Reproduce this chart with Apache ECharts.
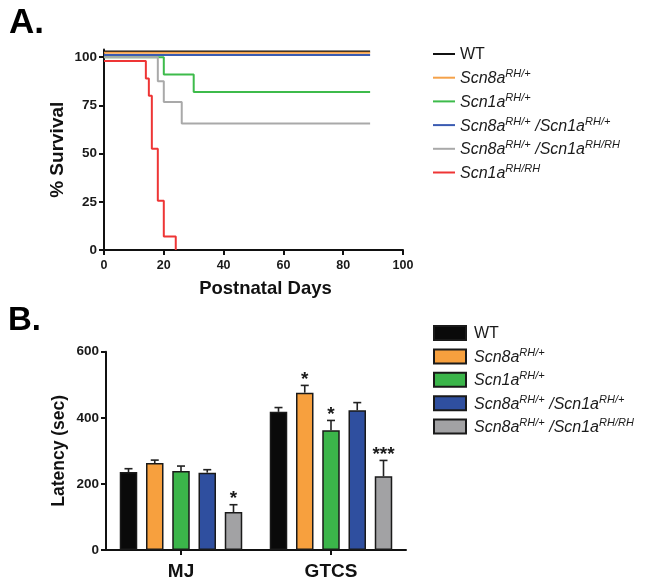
<!DOCTYPE html>
<html>
<head>
<meta charset="utf-8">
<script src="https://cdn.jsdelivr.net/npm/echarts@6/dist/echarts.min.js"></script>
<style>html,body{margin:0;padding:0;background:#fff;}#chart{width:645px;height:588px;}</style>
</head>
<body>
<div id="chart"></div>
<script>
// ---------- Panel A: survival (day, % survival) ----------
const survivalDays = [0, 20, 40, 60, 80, 100];
const survivalTicks = [0, 25, 50, 75, 100];
const wtSurvival = [[0, 102.9], [89, 102.9]];
const scn8aSurvival = [[0, 102.3], [89, 102.3]];
const scn1aSurvival = [[0, 100], [20, 91], [30, 82], [89, 82]];
const dblHetSurvival = [[0, 101.2], [89, 101.2]];
const dblHomSurvival = [[0, 100], [18, 87.5], [20, 76.8], [26, 65.6], [89, 65.6]];
const scn1aHomSurvival = [[0, 98], [14, 89], [15, 80], [16, 52.5], [18, 25.5], [20, 7], [24, 0]];

// ---------- Panel B: seizure latency ----------
const latencyCategories = ['MJ', 'GTCS'];
const latencyTicks = [0, 200, 400, 600];
const wtLatency = [236, 418];
const wtErr = [10, 13];
const wtSig = ['', ''];
const scn8aLatency = [263, 476];
const scn8aErr = [9, 22];
const scn8aSig = ['', '*'];
const scn1aLatency = [239, 362];
const scn1aErr = [15, 30];
const scn1aSig = ['', '*'];
const dblHetLatency = [234, 423];
const dblHetErr = [9, 23];
const dblHetSig = ['', ''];
const dblHomLatency = [115, 223];
const dblHomErr = [22, 48];
const dblHomSig = ['*', '***'];

const FONT = 'Liberation Sans, Arial, sans-serif';

const labelRich = {
  WT: '{n|WT}',
  S8: '{i|Scn8a}{s|RH/+}',
  S1: '{i|Scn1a}{s|RH/+}',
  S8S1: '{i|Scn8a}{s|RH/+}{i| /Scn1a}{s|RH/+}',
  S8S1H: '{i|Scn8a}{s|RH/+}{i| /Scn1a}{s|RH/RH}',
  S1H: '{i|Scn1a}{s|RH/RH}'
};
const rich = {
  n: {fontFamily: FONT, fontSize: 16, color: '#1a1a1a', lineHeight: 18, verticalAlign: 'bottom'},
  i: {fontFamily: FONT, fontSize: 16, fontStyle: 'italic', color: '#1a1a1a', lineHeight: 18, verticalAlign: 'bottom'},
  s: {fontFamily: FONT, fontSize: 11, fontStyle: 'italic', color: '#1a1a1a', lineHeight: 10, verticalAlign: 'top'}
};
function legendFmt(name) { return labelRich[name.split(':')[1]]; }

const lineDefs = [
  ['A:WT', wtSurvival, '#111111'],
  ['A:S8', scn8aSurvival, '#f5a24a'],
  ['A:S1', scn1aSurvival, '#3dbb4b'],
  ['A:S8S1', dblHetSurvival, '#3a5bb2'],
  ['A:S8S1H', dblHomSurvival, '#a9a9a9'],
  ['A:S1H', scn1aHomSurvival, '#ee3535']
];
const barDefs = [
  ['B:WT', wtLatency, wtErr, wtSig, '#0a0a0a'],
  ['B:S8', scn8aLatency, scn8aErr, scn8aSig, '#f7a03e'],
  ['B:S1', scn1aLatency, scn1aErr, scn1aSig, '#3bb54a'],
  ['B:S8S1', dblHetLatency, dblHetErr, dblHetSig, '#2f4f9f'],
  ['B:S8S1H', dblHomLatency, dblHomErr, dblHomSig, '#a2a2a4']
];
const BAR_W = 17.5;
const BAR_GAP = 0.5;

const series = [];
lineDefs.forEach(function (d) {
  series.push({
    name: d[0], type: 'line', xAxisIndex: 0, yAxisIndex: 0, step: 'end',
    showSymbol: false, symbol: 'none', data: d[1], color: d[2],
    lineStyle: {width: 2, color: d[2]}, animation: false, z: 3
  });
});
barDefs.forEach(function (d, k) {
  series.push({
    name: d[0], type: 'bar', xAxisIndex: 1, yAxisIndex: 1, data: d[1],
    barWidth: BAR_W, barGap: (BAR_GAP * 100) + '%', color: d[4],
    itemStyle: {color: d[4], borderColor: '#1a1a1a', borderWidth: 1.5},
    animation: false
  });
});
barDefs.forEach(function (d, k) {
  const errData = d[1].map(function (v, i) { return [i, v, v + d[2][i], d[3][i]]; });
  const off = (k - (barDefs.length - 1) / 2) * BAR_W * (1 + BAR_GAP);
  series.push({
    name: 'err' + k, type: 'custom', xAxisIndex: 1, yAxisIndex: 1, data: errData,
    animation: false, z: 1,
    renderItem: function (params, api) {
      const base = api.coord([api.value(0), api.value(1)]);
      const top = api.coord([api.value(0), api.value(2)]);
      const x = base[0] + off;
      const sig = errData[params.dataIndex][3];
      const children = [
        {type: 'line', shape: {x1: x, y1: base[1], x2: x, y2: top[1]}, style: {stroke: '#222', lineWidth: 1.6}},
        {type: 'line', shape: {x1: x - 4, y1: top[1], x2: x + 4, y2: top[1]}, style: {stroke: '#222', lineWidth: 1.6}}
      ];
      if (sig) {
        children.push({type: 'text', style: {text: sig, x: x, y: top[1] + 4, align: 'center', verticalAlign: 'bottom',
          font: 'bold 19px ' + FONT, fill: '#1a1a1a'}});
      }
      return {type: 'group', children: children};
    }
  });
});

const axisLineStyle = {color: '#111', width: 2};
const xTickLabelStyle = {fontFamily: FONT, fontWeight: 'bold', fontSize: 12.5, color: '#1a1a1a'};
const yTickLabelStyle = {fontFamily: FONT, fontWeight: 'bold', fontSize: 13.5, color: '#1a1a1a'};

const option = {
  backgroundColor: '#fff',
  animation: false,
  title: [
    {text: 'A.', left: 4, top: 1, textStyle: {fontFamily: FONT, fontWeight: 'bold', fontSize: 35, color: '#000'}},
    {text: 'B.', left: 3, top: 299, textStyle: {fontFamily: FONT, fontWeight: 'bold', fontSize: 33, color: '#000'}}
  ],
  legend: [
    {data: lineDefs.map(function (d) { return d[0]; }), orient: 'vertical', left: 433, top: 47, padding: 0,
      itemWidth: 22, itemHeight: 2, icon: 'rect', itemGap: 5.7, formatter: legendFmt,
      textStyle: {rich: rich}, selectedMode: false},
    {data: barDefs.map(function (d) { return d[0]; }), orient: 'vertical', left: 433, top: 325, padding: 0,
      itemWidth: 32, itemHeight: 14, icon: 'rect', itemGap: 5.4, formatter: legendFmt,
      textStyle: {rich: rich, padding: [0, 0, 0, 3]}, selectedMode: false}
  ],
  grid: [
    {left: 104, top: 49.5, width: 299, height: 200.5},
    {left: 106, top: 351.7, width: 300, height: 198.3}
  ],
  xAxis: [
    {gridIndex: 0, type: 'value', min: survivalDays[0], max: survivalDays[survivalDays.length - 1], interval: 20,
      name: 'Postnatal Days', nameLocation: 'middle', nameGap: 29,
      nameTextStyle: {fontFamily: FONT, fontWeight: 'bold', fontSize: 18.5, color: '#111', padding: [0, 0, 0, 24]},
      axisLine: {lineStyle: axisLineStyle}, axisTick: {show: true, length: 5, lineStyle: {color: '#111', width: 2}},
      axisLabel: Object.assign({margin: 9, customValues: survivalDays}, xTickLabelStyle), splitLine: {show: false}},
    {gridIndex: 1, type: 'category', data: latencyCategories,
      axisLine: {lineStyle: axisLineStyle}, axisTick: {show: true, alignWithLabel: true, length: 5, lineStyle: {color: '#111', width: 2}},
      axisLabel: {margin: 12, fontFamily: FONT, fontWeight: 'bold', fontSize: 19, color: '#111'}, splitLine: {show: false}}
  ],
  yAxis: [
    {gridIndex: 0, type: 'value', min: 0, max: 104,
      name: '% Survival', nameLocation: 'middle', nameGap: 37, nameRotate: 90,
      nameTextStyle: {fontFamily: FONT, fontWeight: 'bold', fontSize: 19, color: '#111'},
      axisLine: {show: true, lineStyle: axisLineStyle},
      axisTick: {show: true, length: 5, customValues: survivalTicks, lineStyle: {color: '#111', width: 2}},
      axisLabel: Object.assign({margin: 7, customValues: survivalTicks}, yTickLabelStyle), splitLine: {show: false}},
    {gridIndex: 1, type: 'value', min: latencyTicks[0], max: latencyTicks[latencyTicks.length - 1], interval: 200,
      name: 'Latency (sec)', nameLocation: 'middle', nameGap: 38, nameRotate: 90,
      nameTextStyle: {fontFamily: FONT, fontWeight: 'bold', fontSize: 17.5, color: '#111'},
      axisLine: {show: true, lineStyle: axisLineStyle},
      axisTick: {show: true, length: 5, lineStyle: {color: '#111', width: 2}},
      axisLabel: Object.assign({margin: 7}, yTickLabelStyle), splitLine: {show: false}}
  ],
  series: series
};

const chart = echarts.init(document.getElementById('chart'), null, {renderer: 'canvas'});
chart.setOption(option);
</script>
</body>
</html>
